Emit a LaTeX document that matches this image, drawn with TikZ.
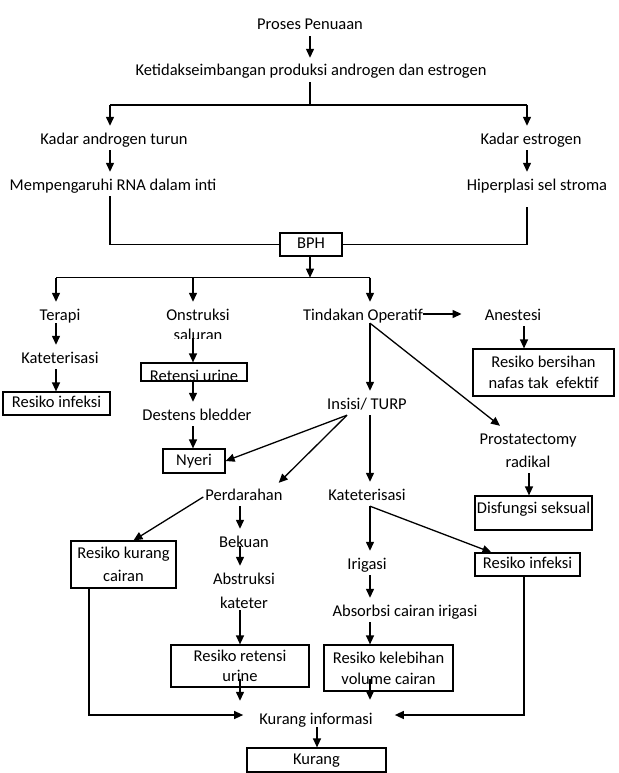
\documentclass[tikz,border=0pt]{standalone}
\usepackage{fontspec}
\setmainfont{Carlito}
\usetikzlibrary{arrows.meta,calc}
\begin{document}
\begin{tikzpicture}[x=1pt,y=-1pt,
  every node/.style={font=\fontsize{16.5}{20}\selectfont},
  txt/.style={inner sep=0pt, minimum height=24pt, text height=14pt, text depth=2pt},
  box/.style={draw, line width=1.2pt, inner sep=0pt, align=center},
  sbox/.style={box, text height=12pt, text depth=4pt},
  ln/.style={line width=1.3pt},
  arr/.style={ln, -{Triangle[length=9pt,width=8pt]}}]
\useasboundingbox (0,0) rectangle (618,773);
% columns and rows
\coordinate (xA) at (310,0);
\coordinate (xL) at (110,0);
\coordinate (xR) at (527,0);
\coordinate (xT) at (56,0);
\coordinate (xO) at (193,0);
\coordinate (xK) at (370,0);
\coordinate (xN) at (524,0);
\coordinate (xD) at (529,0);
\coordinate (xP) at (240,0);
\coordinate (xC) at (89,0);
\coordinate (xI) at (317,0);
\coordinate (yTop) at (0,105);
\coordinate (yBr) at (0,277.7);
\coordinate (yBot) at (0,715);
% nodes
\node[txt] (pp) at (310,24) {Proses Penuaan};
\node[txt] (kt) at (311,70) {Ketidakseimbangan produksi androgen dan estrogen};
\node[txt] (ka) at (114,138) {Kadar androgen turun};
\node[txt] (mr) at (113,184) {Mempengaruhi RNA dalam inti};
\node[txt] (ke) at (531,138) {Kadar estrogen};
\node[txt] (hs) at (537,184) {Hiperplasi sel stroma};
\node[sbox, minimum width=62pt, minimum height=23pt] (bph) at (311,244.5) {BPH};
\node[txt] (te) at (60,314) {Terapi};
\node[txt] (kat) at (60,357) {Kateterisasi};
\node[sbox, minimum width=107pt, minimum height=23pt] (ri1) at (56.5,403.5) {Resiko infeksi};
\node[txt] (on) at (198,314) {Onstruksi};
\begin{scope}
\clip (150,325) rectangle (250,338.3);
\node[txt] (sal) at (198,334.7) {saluran};
\end{scope}
\node[txt] (rut) at (194,375) {Retensi urine};
\node[box, minimum width=106pt, minimum height=18pt] (ru) at (194,372) {};
\node[txt] (db) at (197,414) {Destens bledder};
\node[sbox, minimum width=62pt, minimum height=24pt] (ny) at (194,461) {Nyeri};
\node[txt] (to) at (363,314) {Tindakan Operatif};
\node[txt] (an) at (513,314) {Anestesi};
\node[box, minimum width=141pt, minimum height=47pt, font=\fontsize{16.5}{21}\selectfont] (rb) at (543.5,372.5) {Resiko bersihan\\nafas tak\ \ efektif};
\node[txt] (it) at (367,403) {Insisi/ TURP};
\node[txt] (pr1) at (528,438) {Prostatectomy};
\node[txt] (pr2) at (528,461) {radikal};
\node[txt] (dst) at (533.5,507) {Disfungsi seksual};
\node[box, minimum width=117pt, minimum height=34pt] (ds) at (533.5,513) {};
\node[txt] (pd) at (244,494) {Perdarahan};
\node[box, minimum width=105pt, minimum height=47pt, font=\fontsize{16.5}{23}\selectfont] (rk) at (123.5,564.5) {Resiko kurang\\cairan};
\node[txt] (bk) at (244,541) {Bekuan};
\node[txt] (ab1) at (244,578) {Abstruksi};
\node[txt] (ab2) at (244,602) {kateter};
\node[box, minimum width=138pt, minimum height=42pt, font=\fontsize{16.5}{20}\selectfont] (rr) at (240,666) {Resiko retensi\\urine};
\node[txt] (kt2) at (367,494) {Kateterisasi};
\node[txt] (ir) at (367,563) {Irigasi};
\node[txt] (ac) at (405,610) {Absorbsi cairan irigasi};
\node[box, minimum width=129pt, minimum height=46pt, font=\fontsize{16.5}{21}\selectfont] (rv) at (388.5,668) {Resiko kelebihan\\volume cairan};
\node[sbox, minimum width=105pt, minimum height=23pt] (ri2) at (527.5,564.5) {Resiko infeksi};
\node[txt] (ki) at (316,718) {Kurang informasi};
\node[sbox, minimum width=139pt, minimum height=24pt] (ku) at (316.5,760) {Kurang};
% connectors
\draw[arr] (pp.south -| xA) -- (kt.north -| xA);
\draw[ln] (kt.south -| xA) -- (xA |- yTop);
\draw[ln] (xL |- yTop) -- (xR |- yTop);
\draw[arr] (xL |- yTop) -- (ka.north -| xL);
\draw[arr] (xR |- yTop) -- (ke.north -| xR);
\draw[arr] (ka.south -| xL) -- (mr.north -| xL);
\draw[arr] (ke.south -| xR) -- (hs.north -| xR);
\draw[ln] (mr.south -| xL) -- (xL |- bph.west) -- (bph.west);
\draw[ln] ($(hs.south -| xR)+(0,11)$) -- (xR |- bph.east) -- (bph.east);
\draw[arr] (bph.south -| xA) -- (xA |- yBr);
\draw[ln] (xT |- yBr) -- (xK |- yBr);
\draw[arr] (xT |- yBr) -- (te.north -| xT);
\draw[arr] (xO |- yBr) -- (on.north -| xO);
\draw[arr] (xK |- yBr) -- (to.north -| xK);
\draw[arr] ($(te.south -| xT)+(0,-3)$) -- (kat.north -| xT);
\draw[arr] (kat.south -| xT) -- (ri1.north -| xT);
\draw[arr] ($(sal.center -| xO)+(0,3.6)$) -- (ru.north -| xO);
\draw[arr] (ru.south -| xO) -- (db.north -| xO);
\draw[arr] (db.south -| xO) -- (ny.north -| xO);
\draw[arr] (to.east) -- ($(an.west)+(-23,0)$);
\draw[arr] (an.south -| xN) -- (rb.north -| xN);
\draw[arr] ($(to.south -| xK)+(0,-3)$) -- (it.north -| xK);
\draw[arr] ($(to.south -| xK)+(0,-3)$) -- ($(pr1.north)+(-28,0)$);
\draw[arr] ($(it.south)+(-20,0)$) -- (ny.east);
\draw[arr] ($(it.south)+(-20,0)$) -- ($(pd.north east)+(-4,1)$);
\draw[arr] (it.south -| xK) -- (kt2.north -| xK);
\draw[arr] (pr2.south -| xD) -- (ds.north -| xD);
\draw[arr] ($(pd.west)+(-2,3)$) -- ($(rk.north)+(10,0)$);
\draw[arr] (pd.south -| xP) -- (bk.north -| xP);
\draw[arr] ($(bk.center -| xP)+(0,5)$) -- (ab1.north -| xP);
\draw[arr] ($(ab2.south -| xP)+(0,-4)$) -- (rr.north -| xP);
\draw[arr] ($(rr.south -| xP)+(0,-9)$) -- ($(xP |- ki.north)+(0,-5)$);
\draw[arr] (rk.south -| xC) -- (xC |- yBot) -- ($(ki.west |- yBot)+(-16,0)$);
\draw[arr] (ri2.south -| xN) -- (xN |- yBot) -- ($(ki.east |- yBot)+(22,0)$);
\draw[arr] (kt2.south -| xK) -- (ir.north -| xK);
\draw[arr] (kt2.south -| xK) -- ($(ri2.north west)+(17,0)$);
\draw[arr] (ir.south -| xK) -- (ac.north -| xK);
\draw[arr] (ac.south -| xK) -- (rv.north -| xK);
\draw[arr] ($(rv.south -| xK)+(0,-13)$) -- ($(xK |- ki.north)+(0,-6)$);
\draw[arr] ($(ki.south -| xI)+(0,-3)$) -- (ku.north -| xI);
\end{tikzpicture}
\end{document}
